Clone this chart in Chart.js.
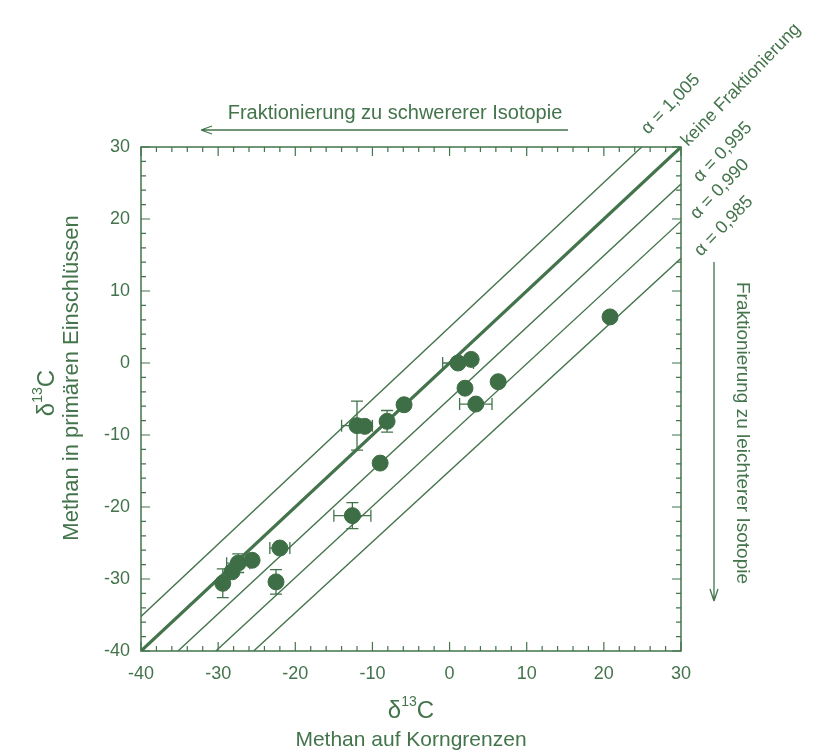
<!DOCTYPE html>
<html>
<head>
<meta charset="utf-8">
<script src="https://cdn.jsdelivr.net/npm/chart.js@4/dist/chart.umd.min.js"></script>
<style>
html,body{margin:0;padding:0;background:#fff;}
#wrap{width:836px;height:754px;}
</style>
</head>
<body>
<div id="wrap"><canvas id="c" width="836" height="754"></canvas></div>
<script>
// ---- data ----
const xGrain   = [20.8, 1.1, 2.8, 2.0, 3.4, 6.3, -5.9, -8.1, -12.0, -11.0, -9.0, -12.6, -29.4, -28.2, -27.4, -25.6, -22.0, -22.5];
const yIncl    = [6.4, 0.0, 0.5, -3.5, -5.7, -2.6, -5.8, -8.1, -8.7, -8.8, -13.9, -21.2, -30.6, -29.0, -27.8, -27.4, -25.7, -30.4];
const xErr     = [0, 2.0, 0, 0, 2.1, 0, 0, 0, 2.0, 0, 0, 2.4, 0, 0, 1.5, 0, 1.3, 0];
const yErr     = [0, 0, 0, 0, 0, 0, 0, 1.5, 3.4, 0, 0, 1.8, 2.0, 0, 1.3, 0, 0, 1.7];

const alphaLabels = ['α = 1,005', 'keine Fraktionierung', 'α = 0,995', 'α = 0,990', 'α = 0,985'];
const lineStartX  = [-40, -40, -35.2, -30.3, -25.4];
const lineStartY  = [-35.2, -40, -40, -40, -40];
const lineEndX    = [24.9, 30, 30, 30, 30];
const lineEndY    = [30, 30, 24.85, 19.7, 14.55];

const axisMin = -40, axisMax = 30;
const majorTicks = [-40, -30, -20, -10, 0, 10, 20, 30];
const minorTicks = [-38,-36,-34,-32,-28,-26,-24,-22,-18,-16,-14,-12,-8,-6,-4,-2,2,4,6,8,12,14,16,18,22,24,26,28];

// ---- style ----
const GREEN = '#43744b';
const FONT = '"Liberation Sans", Arial, Helvetica, sans-serif';

const lineDatasets = alphaLabels.map((lab, i) => ({
  type: 'line',
  label: lab,
  data: [{x: lineStartX[i], y: lineStartY[i]}, {x: lineEndX[i], y: lineEndY[i]}],
  borderColor: GREEN,
  borderWidth: i === 1 ? 3.2 : 1.4,
  pointRadius: 0,
  fill: false,
  order: 2
}));

const pointDataset = {
  type: 'scatter',
  label: 'Messwerte',
  data: xGrain.map((x, i) => ({x: x, y: yIncl[i]})),
  backgroundColor: '#3e6e46',
  borderColor: '#3e6e46',
  pointRadius: 8,
  pointBorderWidth: 1,
  order: 1
};

function drawDelta(ctx, cx, cy, size, rot) {
  ctx.save();
  ctx.translate(cx, cy);
  ctx.rotate(rot);
  const f1 = size + 'px ' + FONT;
  const f2 = Math.round(size * 0.6) + 'px ' + FONT;
  ctx.font = f1; const wd = ctx.measureText('δ').width; const wc = ctx.measureText('C').width;
  ctx.font = f2; const w13 = ctx.measureText('13').width;
  const total = wd + w13 + wc;
  let x = -total / 2;
  ctx.textBaseline = 'middle';
  ctx.textAlign = 'left';
  ctx.fillStyle = GREEN;
  ctx.font = f1; ctx.fillText('δ', x, 0); x += wd;
  ctx.font = f2; ctx.fillText('13', x, -size * 0.38); x += w13;
  ctx.font = f1; ctx.fillText('C', x, 0);
  ctx.restore();
}

const decorPlugin = {
  id: 'decor',
  beforeDatasetsDraw(chart) {
    const ctx = chart.ctx, xs = chart.scales.x, ys = chart.scales.y;
    ctx.save();
    ctx.strokeStyle = GREEN;
    ctx.lineWidth = 1.3;
    for (let i = 0; i < xGrain.length; i++) {
      const px = xs.getPixelForValue(xGrain[i]);
      const py = ys.getPixelForValue(yIncl[i]);
      const cap = 6;
      if (xErr[i] > 0) {
        const l = xs.getPixelForValue(xGrain[i] - xErr[i]);
        const r = xs.getPixelForValue(xGrain[i] + xErr[i]);
        ctx.beginPath();
        ctx.moveTo(l, py); ctx.lineTo(r, py);
        ctx.moveTo(l, py - cap); ctx.lineTo(l, py + cap);
        ctx.moveTo(r, py - cap); ctx.lineTo(r, py + cap);
        ctx.stroke();
      }
      if (yErr[i] > 0) {
        const t = ys.getPixelForValue(yIncl[i] + yErr[i]);
        const b = ys.getPixelForValue(yIncl[i] - yErr[i]);
        ctx.beginPath();
        ctx.moveTo(px, t); ctx.lineTo(px, b);
        ctx.moveTo(px - cap, t); ctx.lineTo(px + cap, t);
        ctx.moveTo(px - cap, b); ctx.lineTo(px + cap, b);
        ctx.stroke();
      }
    }
    ctx.restore();
  },
  afterDraw(chart) {
    const ctx = chart.ctx, xs = chart.scales.x, ys = chart.scales.y;
    const a = chart.chartArea;
    ctx.save();
    ctx.strokeStyle = GREEN;
    ctx.fillStyle = GREEN;
    ctx.lineWidth = 1.5;
    ctx.strokeRect(a.left, a.top, a.right - a.left, a.bottom - a.top);
    ctx.lineWidth = 1.2;
    const drawTicks = (vals, len) => {
      ctx.beginPath();
      vals.forEach(v => {
        const px = xs.getPixelForValue(v);
        ctx.moveTo(px, a.bottom); ctx.lineTo(px, a.bottom - len);
        ctx.moveTo(px, a.top); ctx.lineTo(px, a.top + len);
        const py = ys.getPixelForValue(v);
        ctx.moveTo(a.left, py); ctx.lineTo(a.left + len, py);
        ctx.moveTo(a.right, py); ctx.lineTo(a.right - len, py);
      });
      ctx.stroke();
    };
    drawTicks(majorTicks, 9);
    drawTicks(minorTicks, 5);

    // axis titles
    const cxPlot = (a.left + a.right) / 2;
    drawDelta(ctx, cxPlot, 711, 24, 0);
    ctx.font = '21px ' + FONT;
    ctx.textAlign = 'center'; ctx.textBaseline = 'middle';
    ctx.fillText('Methan auf Korngrenzen', cxPlot, 740);

    drawDelta(ctx, 47, 393, 24, -Math.PI / 2);
    ctx.save();
    ctx.translate(72, 378);
    ctx.rotate(-Math.PI / 2);
    ctx.font = '22px ' + FONT;
    ctx.textAlign = 'center'; ctx.textBaseline = 'middle';
    ctx.fillText('Methan in primären Einschlüssen', 0, 0);
    ctx.restore();

    // top annotation with arrow to the left
    ctx.font = '20px ' + FONT;
    ctx.textAlign = 'center'; ctx.textBaseline = 'middle';
    ctx.fillText('Fraktionierung zu schwererer Isotopie', 395, 113);
    ctx.lineWidth = 1.3;
    ctx.beginPath();
    ctx.moveTo(568, 130); ctx.lineTo(201, 130);
    ctx.moveTo(201, 130); ctx.lineTo(212, 126);
    ctx.moveTo(201, 130); ctx.lineTo(212, 134);
    ctx.stroke();

    // right annotation with arrow downwards
    ctx.beginPath();
    ctx.moveTo(714, 262); ctx.lineTo(714, 601);
    ctx.moveTo(714, 601); ctx.lineTo(710, 589);
    ctx.moveTo(714, 601); ctx.lineTo(718, 589);
    ctx.stroke();
    ctx.save();
    ctx.translate(742, 433);
    ctx.rotate(Math.PI / 2);
    ctx.font = '19px ' + FONT;
    ctx.textAlign = 'center'; ctx.textBaseline = 'middle';
    ctx.fillText('Fraktionierung zu leichterer Isotopie', 0, 0);
    ctx.restore();

    // diagonal line labels
    const ang = -46 * Math.PI / 180;
    const labPos = [[648, 135], [688, 147], [700, 183], [697, 220], [701, 257]];
    ctx.font = '18px ' + FONT;
    ctx.textAlign = 'left'; ctx.textBaseline = 'alphabetic';
    alphaLabels.forEach((lab, i) => {
      ctx.save();
      ctx.translate(labPos[i][0], labPos[i][1]);
      ctx.rotate(ang);
      ctx.fillText(lab, 0, 0);
      ctx.restore();
    });
    ctx.restore();
  }
};

new Chart(document.getElementById('c'), {
  data: { datasets: [...lineDatasets, pointDataset] },
  options: {
    responsive: false,
    animation: false,
    devicePixelRatio: 1,
    layout: { padding: { left: 0, right: 155, top: 147, bottom: 0 } },
    plugins: { legend: { display: false }, tooltip: { enabled: false } },
    scales: {
      x: {
        type: 'linear', min: axisMin, max: axisMax,
        grid: { display: false }, border: { display: false },
        afterFit: s => { s.height = 103; },
        afterBuildTicks: s => { s.ticks = majorTicks.map(v => ({value: v})); },
        ticks: { color: GREEN, font: { family: FONT, size: 18 }, padding: 4, autoSkip: false, maxRotation: 0 }
      },
      y: {
        type: 'linear', min: axisMin, max: axisMax,
        grid: { display: false }, border: { display: false },
        afterFit: s => { s.width = 141; },
        afterBuildTicks: s => { s.ticks = majorTicks.map(v => ({value: v})); },
        ticks: { color: GREEN, font: { family: FONT, size: 18 }, padding: 3, autoSkip: false }
      }
    }
  },
  plugins: [decorPlugin]
});
</script>
</body>
</html>
